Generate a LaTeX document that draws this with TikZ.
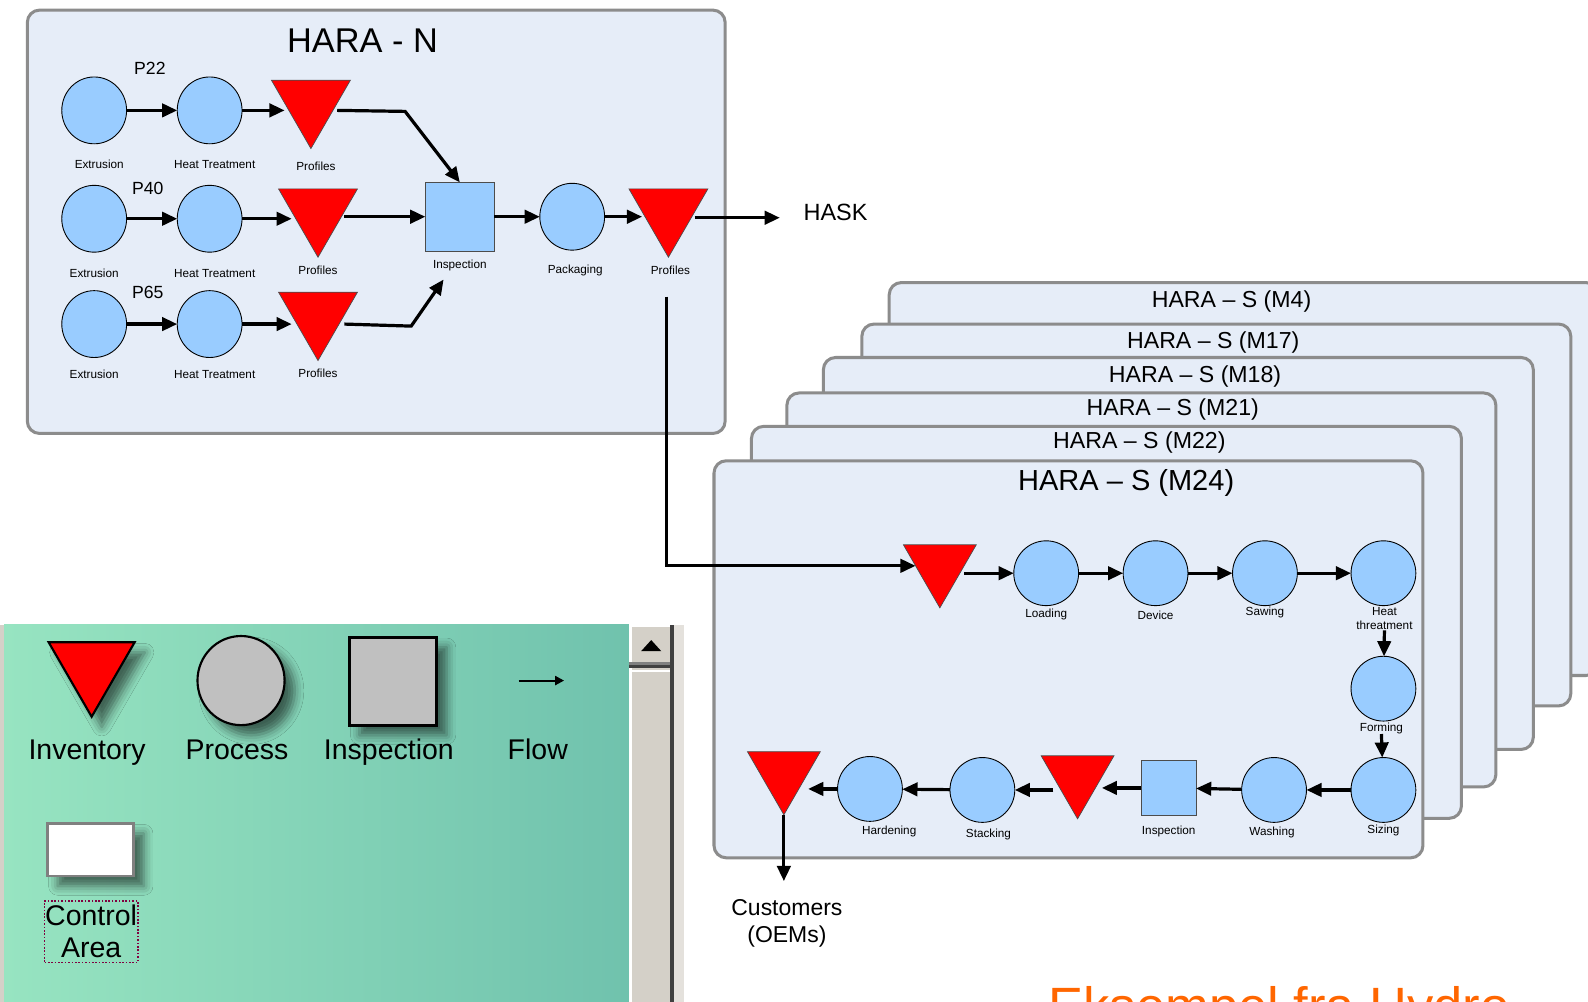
\documentclass[tikz,border=0pt]{standalone}
\usepackage{fontspec}
\setmainfont{Liberation Sans}
\usepackage{tikz}
\usetikzlibrary{positioning,arrows.meta,shapes.geometric,shadows.blur}

\definecolor{areafill}{HTML}{E6EDF8}
\definecolor{areaedge}{HTML}{8C8C8C}
\definecolor{procblue}{HTML}{99CCFF}
\definecolor{invred}{HTML}{FF0000}
\definecolor{mintleft}{HTML}{97E4C1}
\definecolor{mintright}{HTML}{70C2AD}
\definecolor{sbgray}{HTML}{D4D0C8}
\definecolor{sblight}{HTML}{E4E1DC}
\definecolor{sbdark}{HTML}{404040}
\definecolor{legendgray}{HTML}{C0C0C0}
\definecolor{hydroorange}{HTML}{FF6600}
\definecolor{ctrldot}{HTML}{800040}

\tikzset{
  area/.style={draw=areaedge,line width=1.7pt,fill=areafill,rounded corners=2.4mm},
  proc/.style={ellipse,draw=black,line width=0.5pt,fill=procblue,
            minimum width=12.8mm,minimum height=13.2mm,inner sep=0pt,outer sep=0pt},
  inv/.style={regular polygon,regular polygon sides=3,shape border rotate=180,
            draw=black!70,line width=0.4pt,fill=invred,minimum size=18mm,
            inner sep=0pt,outer sep=0pt},
  invsmall/.style={inv,minimum size=16.6mm},
  insp/.style={rectangle,draw=black!70,line width=0.6pt,fill=procblue,
            minimum size=13.6mm,inner sep=0pt,outer sep=0pt},
  lbl/.style={font=\fontsize{6.6}{8}\selectfont,inner sep=0pt,align=center},
  plbl/.style={font=\fontsize{9.9}{11}\selectfont,inner sep=0pt},
  cardtitle/.style={font=\fontsize{13}{15}\selectfont,inner sep=0pt},
  flow/.style={-{Triangle[length=8.5pt,width=7.5pt]},line width=1.8pt},
  legshadow/.style={blur shadow={shadow xshift=2mm,shadow yshift=-2mm,
            shadow blur radius=1.8mm,shadow opacity=55}},
  legtext/.style={font=\fontsize{16}{18}\selectfont,inner sep=0pt,anchor=base},
  legflow/.style={-{Triangle[length=5pt,width=5pt]},line width=1.2pt},
}

\begin{document}
\begin{tikzpicture}[x=0.2mm,y=-0.2mm]
  \clip (0,0) rectangle (1568,989);
  \fill[white] (0,0) rectangle (1568,989);

  % HARA - N
  \draw[area] (27,10) rectangle (716,428);
  \node[font=\fontsize{19.3}{22}\selectfont] (haran) at (358,40) {HARA - N};

  \node[plbl] (p22) at (148,67) {P22};
  \node[proc] (ext1) at (93,109) {};
  \node[proc] (ht1)  at (207,109) {};
  \node[inv]  (inv1) at (307,101.7) {};
  \node[lbl] (ext1-l) at (98,162) {Extrusion};
  \node[lbl] (ht1-l)  at (212,162) {Heat Treatment};
  \node[lbl] (inv1-l) at (312,164) {Profiles};

  \node[plbl] (p40) at (146,186) {P40};
  \node[proc] (ext2) at (93,216) {};
  \node[proc] (ht2)  at (207,216) {};
  \node[inv]  (inv2) at (314,209) {};
  \node[lbl] (ext2-l) at (93,270) {Extrusion};
  \node[lbl] (ht2-l)  at (212,270) {Heat Treatment};
  \node[lbl] (inv2-l) at (314,267) {Profiles};

  \node[plbl] (p65) at (146,289) {P65};
  \node[proc] (ext3) at (93,320) {};
  \node[proc] (ht3)  at (207,320) {};
  \node[inv]  (inv3) at (314,311) {};
  \node[lbl] (ext3-l) at (93,370) {Extrusion};
  \node[lbl] (ht3-l)  at (212,370) {Heat Treatment};
  \node[lbl] (inv3-l) at (314,369) {Profiles};

  \node[insp] (insp1) at (454,214) {};
  \node[lbl] (insp1-l) at (454,262) {Inspection};
  \node[proc] (pack) at (565,214) {};
  \node[lbl] (pack-l) at (568,267) {Packaging};
  \node[inv] (inv4) at (660,209) {};
  \node[lbl] (inv4-l) at (662,267) {Profiles};
  \node[font=\fontsize{13.2}{15}\selectfont] (hask) at (825,210) {HASK};

  \coordinate (j1) at (400,110);
  \coordinate (j3) at (406,322);
  \coordinate (j3b) at (438,276);
  \coordinate (haskin) at (770,215);
  \coordinate (drop) at (658,293);

  \draw[flow] (ext1) -- (ht1);
  \draw[flow] (ht1) -- (ht1 -| inv1.west);
  \draw[flow] (ext2) -- (ht2);
  \draw[flow] (ht2) -- (ht2 -| inv2.west);
  \draw[flow] (ext3) -- (ht3);
  \draw[flow] (ht3) -- (ht3 -| inv3.west);
  \draw[flow] (ht1 -| inv1.east) -- (j1) -- (insp1.north);
  \draw[flow] (insp1 -| inv2.east) -- (insp1);
  \draw[flow] (ht3 -| inv3.east) -- (j3) -- (j3b);
  \draw[flow] (insp1) -- (pack);
  \draw[flow] (pack) -- (pack -| inv4.west);
  \draw[flow] (haskin -| inv4.east) -- (haskin);

  % HARA - S stack
  \draw[area] (878,279) rectangle (1578,667);
  \node[cardtitle] (m4) at (1216,298) {HARA -- S (M4)};
  \draw[area] (851,320) rectangle (1551,697);
  \node[cardtitle] (m17) at (1198,338) {HARA -- S (M17)};
  \draw[area] (813,353) rectangle (1514,740);
  \node[cardtitle] (m18) at (1180,372) {HARA -- S (M18)};
  \draw[area] (777,388) rectangle (1477,777);
  \node[cardtitle] (m21) at (1158,404) {HARA -- S (M21)};
  \draw[area] (742,421) rectangle (1443,808);
  \node[cardtitle] (m22) at (1125,437) {HARA -- S (M22)};
  \draw[area] (705,455) rectangle (1405,847);
  \node[font=\fontsize{16.3}{18}\selectfont] (m24) at (1112,477) {HARA -- S (M24)};

  \node[invsmall] (inv5) at (928,558.7) {};
  \node[proc,minimum height=12.8mm] (load) at (1033,566) {};
  \node[proc,minimum height=12.8mm] (dev)  at (1141,566) {};
  \node[proc,minimum height=12.8mm] (saw)  at (1249,566) {};
  \node[proc,minimum height=12.8mm] (heat) at (1366,566) {};
  \node[lbl] (load-l) at (1033,607) {Loading};
  \node[lbl] (dev-l)  at (1141,608) {Device};
  \node[lbl] (saw-l)  at (1249,605) {Sawing};
  \node[lbl] (heat-l) at (1367,611) {Heat\\threatment};

  \node[proc,minimum height=12.8mm] (form) at (1366,680) {};
  \node[lbl] (form-l) at (1364,719) {Forming};
  \node[proc,minimum height=12.8mm] (size) at (1366,780) {};
  \node[lbl] (size-l) at (1366,820) {Sizing};
  \node[proc,minimum height=12.8mm] (wash) at (1258,780) {};
  \node[lbl] (wash-l) at (1256,822) {Washing};
  \node[insp,minimum size=10.8mm] (insp2) at (1154,778) {};
  \node[lbl] (insp2-l) at (1154,821) {Inspection};
  \node[invsmall] (inv6) at (1064,767) {};
  \node[proc,minimum height=12.8mm] (stack) at (970,780) {};
  \node[lbl] (stack-l) at (976,824) {Stacking};
  \node[proc,minimum height=12.8mm] (hard) at (859,779) {};
  \node[lbl] (hard-l) at (878,821) {Hardening};
  \node[invsmall] (inv7) at (774,763) {};

  \node[font=\fontsize{12.9}{15.4}\selectfont,align=center] (cust) at (777,912) {Customers\\(OEMs)};
  \coordinate (custin) at (774,870);

  \draw[flow] (drop) |- (inv5.west);
  \draw[flow] (load -| inv5.east) -- (load);
  \draw[flow] (load) -- (dev);
  \draw[flow] (dev) -- (saw);
  \draw[flow] (saw) -- (heat);
  \draw[flow] (heat-l.south) -- (form);
  \draw[flow] (form-l.south) -- (size);
  \draw[flow] (size) -- (wash);
  \draw[flow] (wash) -- (insp2);
  \draw[flow] (insp2) -- (insp2 -| inv6.east);
  \draw[flow] (stack -| inv6.west) -- (stack);
  \draw[flow] (stack) -- (hard);
  \draw[flow] (hard) -- (hard -| inv7.east);
  \draw[flow] (inv7.south) -- (custin);

  % legend panel
  \fill[sbgray] (0,617) rectangle (4,989);
  \shade[left color=mintleft,right color=mintright] (4,617) rectangle (621,989);
  \fill[white] (621,617) rectangle (624,989);
  \fill[sbgray] (624,619) rectangle (662,989);
  \fill[sbdark] (662,617) rectangle (665.5,989);
  \fill[sblight] (665.5,617) rectangle (675,989);
  \fill[gray] (621,654) rectangle (662,657);
  \fill[sbdark] (621,657) rectangle (665.5,660);
  \fill[white] (624,662) rectangle (662,664);
  \fill[black] (633,643) -- (643,632) -- (653,643) -- cycle;

  \node[inv,draw=black,line width=1.2pt,minimum size=19.6mm,legshadow] (leg-inv) at (90.5,658.7) {};
  \node[ellipse,draw=black,line width=1.2pt,fill=legendgray,minimum width=17.2mm,
        minimum height=17.6mm,legshadow] (leg-proc) at (238,672) {};
  \node[rectangle,draw=black,line width=1.7pt,fill=legendgray,minimum width=17.2mm,
        minimum height=17.4mm,legshadow] (leg-insp) at (388,672.5) {};
  \coordinate (leg-flow-a) at (512,672);
  \coordinate (leg-flow-b) at (557,672);
  \draw[legflow] (leg-flow-a) -- (leg-flow-b);
  \node[rectangle,draw=gray,line width=1.6pt,fill=white,minimum width=17mm,
        minimum height=10.4mm,legshadow] (leg-ctrl) at (89.5,839) {};

  \node[legtext] (leg-inv-l)  at (86,750) {Inventory};
  \node[legtext] (leg-proc-l) at (234,750) {Process};
  \node[legtext] (leg-insp-l) at (384,750) {Inspection};
  \node[legtext] (leg-flow-l) at (531,750) {Flow};
  \node[draw=ctrldot,densely dotted,line width=0.9pt,font=\fontsize{16}{18}\selectfont,
        align=center,minimum width=18.4mm,minimum height=12.2mm,inner sep=0pt] (leg-ctrl-l) at (90,920) {Control\\Area};

  % caption, cut by the page edge
  \node[anchor=base west,inner sep=0pt,text=hydroorange,font=\fontsize{29.5}{33}\selectfont] (hydro) at (1035,1012) {Eksempel fra Hydro};
\end{tikzpicture}
\end{document}
